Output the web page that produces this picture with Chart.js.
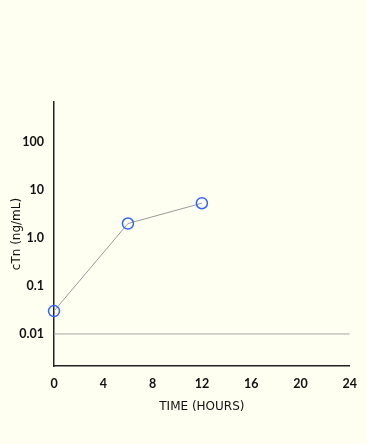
<!DOCTYPE html>
<html>
<head>
<meta charset="utf-8">
<script src="https://cdn.jsdelivr.net/npm/chart.js@4/dist/chart.umd.min.js"></script>
<style>
  html, body { margin: 0; padding: 0; background: #FEFEF1; }
  #wrap { width: 367px; height: 444px; }
</style>
</head>
<body>
<div id="wrap"><canvas id="c" width="367" height="444"></canvas></div>
<script>
// Data
const timeHours = [0, 6, 12];
const cTnValues = [0.03, 2.0, 5.3];
const thresholdTimes = [0, 24];
const thresholdValues = [0.01, 0.01];
const yTickValues = [0.01, 0.1, 1, 10, 100];
const yTickLabels = ['0.01', '0.1', '1.0', '10', '100'];
const xTickLabels = [0, 4, 8, 12, 16, 20, 24];

const tickFont = 'Lato, "DejaVu Sans", sans-serif';
const titleFont = '"DejaVu Sans", sans-serif';

new Chart(document.getElementById('c'), {
  type: 'line',
  data: {
    datasets: [
      {
        data: thresholdTimes.map((t, i) => ({ x: t, y: thresholdValues[i] })),
        borderColor: '#a8a8a8',
        borderWidth: 1,
        pointRadius: 0,
        fill: false
      },
      {
        data: timeHours.map((t, i) => ({ x: t, y: cTnValues[i] })),
        borderColor: '#9a9a9a',
        borderWidth: 1,
        pointRadius: 5.5,
        pointBorderWidth: 1.5,
        pointBorderColor: '#3366ff',
        pointBackgroundColor: 'rgba(0,0,0,0)',
        fill: false,
        clip: false
      }
    ]
  },
  options: {
    responsive: false,
    animation: false,
    layout: { padding: { top: 102, right: 17, left: 0, bottom: 0 } },
    plugins: { legend: { display: false }, tooltip: { enabled: false } },
    scales: {
      x: {
        type: 'linear',
        min: 0,
        max: 24,
        afterBuildTicks: (s) => { s.ticks = xTickLabels.map(v => ({ value: v })); },
        ticks: { padding: 10, color: '#111', font: { family: tickFont, size: 12.5, weight: 'bold' } },
        grid: { display: false, drawTicks: false },
        border: { display: true, color: '#222', width: 1.5 },
        title: {
          display: true, text: 'TIME (HOURS)', color: '#111',
          font: { family: titleFont, size: 12 },
          padding: { top: 0, bottom: 30 }
        },
        afterFit: (s) => { s.height = 78; }
      },
      y: {
        type: 'logarithmic',
        min: 0.00215,
        max: 681,
        afterBuildTicks: (s) => { s.ticks = yTickValues.map(v => ({ value: v })); },
        ticks: {
          padding: 10, color: '#111', font: { family: tickFont, size: 12.5, weight: 'bold' },
          callback: (v) => { const i = yTickValues.indexOf(v); return i >= 0 ? yTickLabels[i] : ''; }
        },
        grid: { display: false, drawTicks: false },
        border: { display: true, color: '#222', width: 1.5 },
        title: {
          display: true, text: 'cTn (ng/mL)', color: '#111',
          font: { family: titleFont, size: 12 },
          padding: { top: 10, bottom: 0 }
        },
        afterFit: (s) => { s.width = 54; }
      }
    }
  }
});
</script>
</body>
</html>
